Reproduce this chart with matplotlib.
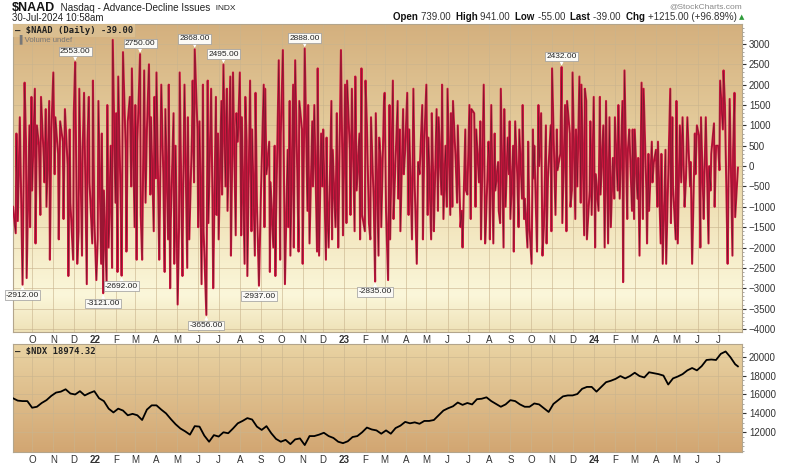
import numpy as np
import pandas as pd
import matplotlib
matplotlib.use("Agg")
import matplotlib.pyplot as plt
import matplotlib.dates as mdates
from matplotlib.colors import LinearSegmentedColormap
from matplotlib.ticker import MultipleLocator, FixedLocator

# $NAAD daily readings, estimated month by month off the chart
naad_sep21 = [-1000, -1650, 800, -1350, 1200, -900, -2912, 2050, 600, -2750, 1000, -1500, 1700]
naad_oct21 = [-600, 1900, -1900, 1000, 500, -1200, 1700, 200, -400, 1400, -1000, 1600, -2300, 800]
naad_nov21 = [2300, -200, 1200, 300, -1800, 1100, 600, -1300, 1400, 0, -2700, 900, -900, -2300]
naad_dec21 = [1300, 2553, -2400, -1600, 1900, -2200, 400, 1800, -2900, 600, 1700, -400, -1900, 2100, -1300]
naad_jan22 = [-2800, -1800, 1600, -2400, 800, -3121, -600, -2900, 1500, -2000, 500, -2500, 3100, -900]
naad_feb22 = [1300, -2600, 2200, -1200, -2692, 2800, 400, -2100, 1100, 1700, -500, 2400, -1500]
naad_mar22 = [1500, -2300, 600, 2750, -1200, -2300, 2350, -900, 900, 2500, -700, 1200, -1600, 1700, -300]
naad_apr22 = [2300, -2300, -1000, 2000, -200, -2600, 1400, -1800, 2000, -3000, -1300, 1300, -2400, 500]
naad_may22 = [-3400, -1500, 2300, -2700, -800, 2000, -2500, 1200, -1800, 800, 2100, -400, 2868, 900]
naad_jun22 = [-1500, 1100, -2900, 2000, -1600, -3656, 2100, -1400, 1900, -900, -3000, 1700, -1200, 800]
naad_jul22 = [-1800, 1600, -700, 2495, -500, 1900, -1100, 2200, -2200, 400, 2300, -1700, 1300, 600]
naad_aug22 = [2300, -1700, 1200, -2400, 1700, 600, -2700, 2100, -1600, 900, -2200, 1800, -900, -2937, -1400]
naad_sep22 = [-600, 2000, -1500, 1900, -200, 600, -2600, -400, -2000, 500, -2700, -1300, 2600, -2300, 800]
naad_oct22 = [2850, -1200, -2900, 400, -1500, 1600, -2200, 2000, -2000, 2600, -100, -2100, 1600, 900]
naad_nov22 = [-2400, 800, 2888, -1100, 1500, -1900, 1100, -500, 1500, -2100, 2400, -2200, 800, -500]
naad_dec22 = [900, -2300, 700, -800, -2000, 1600, -1800, 400, -1500, 1300, -600, -2000, 2850, 200, -1700]
naad_jan23 = [2000, -1400, 2100, 400, -1200, 1900, -1600, 2200, -600, 800, -1800, 2400, -1200, -1600]
naad_feb23 = [2100, 1000, -1400, -1800, 1200, -900, -2835, 1300, -2200, 700, 200, -1500, 1600]
naad_mar23 = [1800, -1100, -2800, 1500, -1800, 2100, -1300, -300, 1600, -800, 900, -1600, 1400, -200, 400]
naad_apr23 = [1800, -1200, 900, -1800, 1900, -500, -2400, 100, -200, 1500, -1800, 600]
naad_may23 = [2000, -1200, 700, -1800, 1300, -300, -1600, 1400, -1100, 1200, -700, 2000, -1300, 500, -1000]
naad_jun23 = [1900, -1200, 1300, -1000, 1600, 100, -900, 1000, -1500, -1100, -2000, 900, -600, -700]
naad_jul23 = [1500, -1300, 1400, 1300, -1000, 900, -400, 1100, -1800, 2000, -1900, -1500, 600]
naad_aug23 = [200, -1800, 1500, -1900, 800, -600, 100, -1100, -1400, 1900, -2000, 1400, -1000, 700, -200, 1100]
naad_sep23 = [-1300, 500, -2100, 1100, -200, -1500, 900, -800, 1500, -1300, -800, -2000, 600, -1500]
naad_oct23 = [-2400, 900, -300, 500, -2100, 1500, 0, 1300, -2200, -1500, 1000, -1900, -300, 1000, -1600]
naad_nov23 = [2400, 1000, -1200, 900, -100, 300, 2432, -1400, 1500, -1600, 1600, 800, -1000, -600]
naad_dec23 = [2300, -1300, 900, -500, 2200, -900, 2000, -1700, 1900, 1600, -1800, -600, 1100, -1200]
naad_jan24 = [1700, -2000, -200, -1100, 1700, -700, 1000, -2000, 1600, -1900, 1200, -1500, 200, -800]
naad_feb24 = [1200, -600, 1500, -800, 1600, -2850, 2350, -1300, 400, 900, -1100, 900, -1300]
naad_mar24 = [900, -800, 200, -2200, 2050, -1300, 1900, -600, -1900, 300, -1100, 600, -400, 100]
naad_apr24 = [400, -1000, 600, -1900, 300, -2400, 400, -2400, -1000, 1900, -1400, 1200, -500, -1800]
naad_may24 = [1600, -1900, 1000, -400, 1200, -1000, -300, 1200, -500, 100, -2400, 800, -200, 1000]
naad_jun24 = [750, -2000, 1200, -1300, -300, 1200, -1900, 0, -600, 300, 1050, -1000, 500]
naad_jul24 = [500, -100, 2100, 900, 2350, 1500, -2400, -800, 1650, -2200, 400, 1800, -1254, -39]

# $NDX weekly closes (Fridays), plus the last print
ndx_2021 = [15600, 15350, 15300, 15300,
            14600, 14700, 15100, 15400, 15850,
            16200, 16300, 16550, 16100,
            16000, 16350, 15900, 16150, 16350]
ndx_2022 = [15600, 15300, 14500, 14100,
            14500, 14300, 13800, 13950,
            13800, 13300, 14400, 14850,
            14850, 14400, 14000, 13400, 12850,
            12400, 12100, 11750, 12650,
            12600, 11650, 11000, 11700,
            11550, 12000, 11900, 12400, 12950,
            13200, 13500, 13350, 12600,
            12250, 12650, 11900, 11300, 11000,
            11200, 10750, 11250, 11350,
            10650, 11600, 11600, 11750,
            11950, 11600, 11400, 11000, 10850]
ndx_2023 = [11050, 11500, 11600, 12000,
            12500, 12300, 12200, 11850,
            12200, 11850, 12450, 12700, 13100,
            12950, 13050, 12900, 13200,
            13200, 13300, 13800, 14300,
            14550, 14750, 15150, 14900, 15100,
            14950, 15500, 15550, 15700,
            15300, 15000, 14700, 14950,
            15400, 15300, 14950, 14700, 14700,
            15050, 14950, 14550, 14150,
            15000, 15400, 15800, 15900,
            15900, 16050, 16600, 16800, 16800]
ndx_2024 = [16300, 16800, 17300, 17450,
            17650, 17950, 17700, 17950,
            18300, 17950, 17800, 18350, 18250,
            18150, 18000, 17050, 17700,
            17900, 18150, 18550, 18800, 18550,
            19000, 19650, 19700, 19650,
            20300, 20550, 19950, 19200]
ndx_last = 18974.32

peak_labels = [2553, 2750, 2868, 2495, 2888, 2432]
trough_labels = [-2912, -3121, -2692, -3656, -2937, -2835]

naad_months = [
    (2021, 9, naad_sep21), (2021, 10, naad_oct21), (2021, 11, naad_nov21), (2021, 12, naad_dec21),
    (2022, 1, naad_jan22), (2022, 2, naad_feb22), (2022, 3, naad_mar22), (2022, 4, naad_apr22),
    (2022, 5, naad_may22), (2022, 6, naad_jun22), (2022, 7, naad_jul22), (2022, 8, naad_aug22),
    (2022, 9, naad_sep22), (2022, 10, naad_oct22), (2022, 11, naad_nov22), (2022, 12, naad_dec22),
    (2023, 1, naad_jan23), (2023, 2, naad_feb23), (2023, 3, naad_mar23), (2023, 4, naad_apr23),
    (2023, 5, naad_may23), (2023, 6, naad_jun23), (2023, 7, naad_jul23), (2023, 8, naad_aug23),
    (2023, 9, naad_sep23), (2023, 10, naad_oct23), (2023, 11, naad_nov23), (2023, 12, naad_dec23),
    (2024, 1, naad_jan24), (2024, 2, naad_feb24), (2024, 3, naad_mar24), (2024, 4, naad_apr24),
    (2024, 5, naad_may24), (2024, 6, naad_jun24), (2024, 7, naad_jul24),
]

# spread each month's readings over that month's trading days
bdays = pd.bdate_range("2021-09-03", "2024-07-30")
naad_dates, naad_vals = [], []
for yr, mo, vals in naad_months:
    mdays = bdays[(bdays.year == yr) & (bdays.month == mo)]
    idx = np.round(np.linspace(0, len(mdays) - 1, len(vals))).astype(int)
    naad_dates.extend(mdays[idx])
    naad_vals.extend(vals)

ndx_vals = ndx_2021 + ndx_2022 + ndx_2023 + ndx_2024 + [ndx_last]
ndx_dates = list(pd.date_range("2021-09-03", "2024-07-26", freq="W-FRI")) + [pd.Timestamp("2024-07-30")]

W, H = 789, 468
fig = plt.figure(figsize=(W / 100, H / 100), dpi=100)
plt.rcParams["font.family"] = ["Liberation Sans", "DejaVu Sans"]

def px_axes(x0, y0, x1, y1):
    return fig.add_axes([x0 / W, 1 - y1 / H, (x1 - x0) / W, (y1 - y0) / H])

ax1 = px_axes(13, 24, 742, 332)
ax2 = px_axes(13, 344, 742, 452)

xmin, xmax = pd.Timestamp("2021-09-03"), pd.Timestamp("2024-08-05")
month_starts = pd.date_range("2021-10-01", "2024-07-01", freq="MS")
month_labels = [f"{d.year % 100:02d}" if d.month == 1 else d.strftime("%b")[0] for d in month_starts]

top_cmap = LinearSegmentedColormap.from_list(
    "top", [(0, "#efe2b8"), (0.12, "#fbf7da"), (0.5, "#ecd9aa"), (1, "#d4b07e")])
bot_cmap = LinearSegmentedColormap.from_list("bot", ["#d2a672", "#e9d3a3"])

for ax, cmap in [(ax1, top_cmap), (ax2, bot_cmap)]:
    grad = np.linspace(0, 1, 256).reshape(-1, 1)
    ax.imshow(grad, cmap=cmap, origin="lower", aspect="auto",
              extent=[0, 1, 0, 1], transform=ax.transAxes, zorder=0)
    ax.set_xlim(xmin, xmax)
    ax.xaxis.set_major_locator(FixedLocator(mdates.date2num(month_starts)))
    ax.set_xticklabels(month_labels)
    for lab, txt in zip(ax.get_xticklabels(), month_labels):
        if txt.isdigit():
            lab.set_fontweight("bold")
    ax.tick_params(axis="x", length=0, pad=2, labelsize=7, colors="#333333")
    ax.yaxis.tick_right()
    ax.tick_params(axis="y", which="major", length=3, pad=2, labelsize=7,
                   colors="#333333", direction="out")
    ax.tick_params(axis="y", which="minor", length=1.5, colors="#999999")
    ax.grid(True, color="#c9b48e", lw=0.6, alpha=0.7)
    ax.set_axisbelow(True)
    for s in ax.spines.values():
        s.set_color("#b3a58c")
        s.set_linewidth(0.8)

# top panel
ax1.set_ylim(-4075, 3490)
ax1.set_yticks(np.arange(-4000, 3001, 500))
ax1.yaxis.set_minor_locator(MultipleLocator(100))
ax1.plot(naad_dates, naad_vals, color="#d0163f", lw=1.5, zorder=3)
ax1.plot(naad_dates, naad_vals, color="#1a1a1a", lw=0.35, alpha=0.6, zorder=4)

for v in peak_labels + trough_labels:
    i = naad_vals.index(v)
    up = v > 0
    ax1.annotate(f"{v:.2f}", xy=(naad_dates[i], v), xytext=(0, 5 if up else -5),
                 textcoords="offset points", ha="center", va="bottom" if up else "top",
                 fontsize=6, color="#222222", zorder=6, annotation_clip=False,
                 bbox=dict(boxstyle="square,pad=0.15", fc="#fbfaf6", ec="#9a9a9a", lw=0.5),
                 arrowprops=dict(arrowstyle="-|>", color="white", lw=0.6,
                                 mutation_scale=5, shrinkA=0, shrinkB=1))

ax1.text(0.003, 0.994, "\u2014 $NAAD (Daily) -39.00", transform=ax1.transAxes,
         ha="left", va="top", fontsize=6.4, family="DejaVu Sans Mono", fontweight="bold",
         color="#222222", zorder=7,
         bbox=dict(boxstyle="square,pad=0.2", fc="#dcc193", ec="none", alpha=0.85))
ax1.text(0.006, 0.966, "\u2590 Volume undef", transform=ax1.transAxes, ha="left", va="top",
         fontsize=5.6, color="#777777", zorder=7)

# bottom panel
ax2.set_ylim(9915, 21340)
ax2.set_yticks(np.arange(12000, 20001, 2000))
ax2.yaxis.set_minor_locator(MultipleLocator(500))
ax2.plot(ndx_dates, ndx_vals, color="black", lw=1.3, zorder=3)
ax2.text(0.003, 0.975, "\u2014 $NDX 18974.32", transform=ax2.transAxes,
         ha="left", va="top", fontsize=6.4, family="DejaVu Sans Mono", fontweight="bold",
         color="#222222", zorder=7)

# header rows
fig.canvas.draw()
rend = fig.canvas.get_renderer()

def put_row(x, y, pieces):
    for s, kw in pieces:
        t = fig.text(x / W, 1 - y / H, s, va="center", ha="left", **kw)
        x += t.get_window_extent(rend).width
    return x

put_row(12, 8, [("$NAAD", dict(fontsize=9, fontweight="bold", color="#111111")),
                ("  Nasdaq - Advance-Decline Issues", dict(fontsize=7.2, color="#222222")),
                ("  INDX", dict(fontsize=6, color="#222222"))])
fig.text(12 / W, 1 - 18 / H, "30-Jul-2024 10:58am", fontsize=7, color="#222222",
         va="center", ha="left")
fig.text(742 / W, 1 - 6.5 / H, "@StockCharts.com", fontsize=6, color="#888888",
         va="center", ha="right")

bold = dict(fontsize=7, fontweight="bold", color="#111111")
reg = dict(fontsize=7, color="#333333")
put_row(393, 17, [("Open ", bold), ("739.00  ", reg), ("High ", bold), ("941.00  ", reg),
                  ("Low ", bold), ("-55.00  ", reg), ("Last ", bold), ("-39.00  ", reg),
                  ("Chg ", bold), ("+1215.00 (+96.89%) ", reg),
                  ("\u25b2", dict(fontsize=5, color="#2e9b3a", family="DejaVu Sans"))])

fig.savefig("out.png", dpi=100, facecolor="white")
